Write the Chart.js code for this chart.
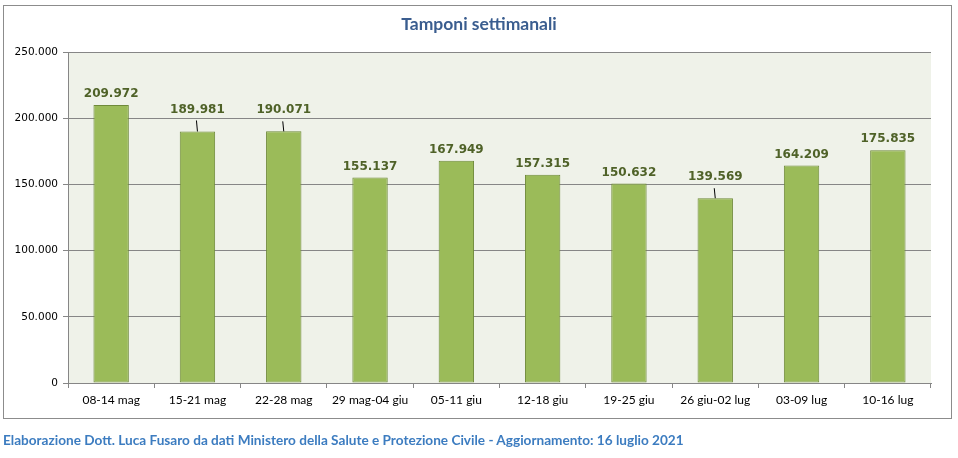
<!DOCTYPE html>
<html>
<head>
<meta charset="utf-8">
<script src="https://cdn.jsdelivr.net/npm/chart.js@4"></script>
<style>
    html, body { margin: 0; padding: 0; background: #ffffff; }
    #frame {
        position: absolute; left: 3px; top: 5px; width: 947px; height: 412px;
        border: 1px solid #8c8c8c; z-index: 0;
    }
    #title {
        position: absolute; left: 0; top: 13px; width: 958px; text-align: center;
        font: bold 17.5px Lato, "Liberation Sans", sans-serif; color: #3a5d8f; z-index: 2;
    }
    #footer {
        position: absolute; left: 3px; top: 432px;
        font: bold 13.6px Lato, "Liberation Sans", sans-serif; color: #3c7cc0; z-index: 2;
    }
    #wrap { position: absolute; left: 0; top: 0; width: 958px; height: 458px; z-index: 1; }
</style>
</head>
<body>
<div id="frame"></div>
<div id="title">Tamponi settimanali</div>
<div id="wrap"><canvas id="chart" width="958" height="458"></canvas></div>
<div id="footer">Elaborazione Dott. Luca Fusaro da dati Ministero della Salute e Protezione Civile - Aggiornamento: 16 luglio 2021</div>
<script>
// Weekly swabs
const weeks = ['08-14 mag', '15-21 mag', '22-28 mag', '29 mag-04 giu', '05-11 giu',
    '12-18 giu', '19-25 giu', '26 giu-02 lug', '03-09 lug', '10-16 lug'];
const swabs = [209972, 189981, 190071, 155137, 167949, 157315, 150632, 139569, 164209, 175835];
const yTicks = [0, 50000, 100000, 150000, 200000, 250000];

// how far each value label sits above its bar (px); long ones get a leader line
const labelLift = [11, 22, 21, 11, 11, 11, 11, 21, 11, 11];

function fmt(v) {
    return v.toString().replace(/\B(?=(\d{3})+(?!\d))/g, '.');
}

const plotBackground = {
    id: 'plotBackground',
    beforeDraw(chart) {
        const { ctx, chartArea: a } = chart;
        ctx.save();
        ctx.fillStyle = '#eff2e9';
        ctx.fillRect(a.left, a.top, a.right - a.left, a.bottom - a.top);
        ctx.restore();
    }
};

const valueLabels = {
    id: 'valueLabels',
    afterDatasetsDraw(chart) {
        const ctx = chart.ctx;
        const meta = chart.getDatasetMeta(0);
        ctx.save();
        ctx.font = 'bold 12px "DejaVu Sans", Verdana, sans-serif';
        ctx.fillStyle = '#4f6228';
        ctx.textAlign = 'center';
        ctx.textBaseline = 'middle';
        meta.data.forEach((bar, i) => {
            const lift = labelLift[i];
            ctx.fillText(fmt(swabs[i]), bar.x, bar.y - lift);
            if (lift > 15) {
                ctx.strokeStyle = '#000000';
                ctx.lineWidth = 1;
                ctx.beginPath();
                ctx.moveTo(bar.x - 1, bar.y - lift + 11);
                ctx.lineTo(bar.x, bar.y);
                ctx.stroke();
            }
        });
        ctx.restore();
    }
};

new Chart(document.getElementById('chart'), {
    type: 'bar',
    data: {
        labels: weeks,
        datasets: [{
            data: swabs,
            backgroundColor: '#9bbb59',
            borderColor: '#6f8a3a',
            borderWidth: 1,
            borderSkipped: false,
            categoryPercentage: 1,
            barPercentage: 0.41
        }]
    },
    options: {
        responsive: false,
        animation: false,
        layout: { padding: { left: 0, top: 52, right: 27, bottom: 45 } },
        plugins: {
            legend: { display: false },
            title: { display: false },
            tooltip: { enabled: false }
        },
        scales: {
            x: {
                afterFit(axis) { axis.height = 30; },
                grid: { drawOnChartArea: false, color: '#868686', tickLength: 5 },
                border: { color: '#868686' },
                ticks: {
                    color: '#000000',
                    padding: 5,
                    maxRotation: 0,
                    autoSkip: false,
                    font: { family: 'Lato, "Liberation Sans", sans-serif', size: 12 }
                }
            },
            y: {
                min: 0,
                max: 250000,
                afterFit(axis) { axis.width = 68; },
                afterBuildTicks(axis) { axis.ticks = yTicks.map(v => ({ value: v })); },
                grid: { color: '#868686', tickLength: 5 },
                border: { color: '#868686' },
                ticks: {
                    color: '#000000',
                    padding: 5,
                    callback: v => fmt(v),
                    font: { family: '"DejaVu Sans", Verdana, sans-serif', size: 10.5 }
                }
            }
        }
    },
    plugins: [plotBackground, valueLabels]
});
</script>
</body>
</html>
